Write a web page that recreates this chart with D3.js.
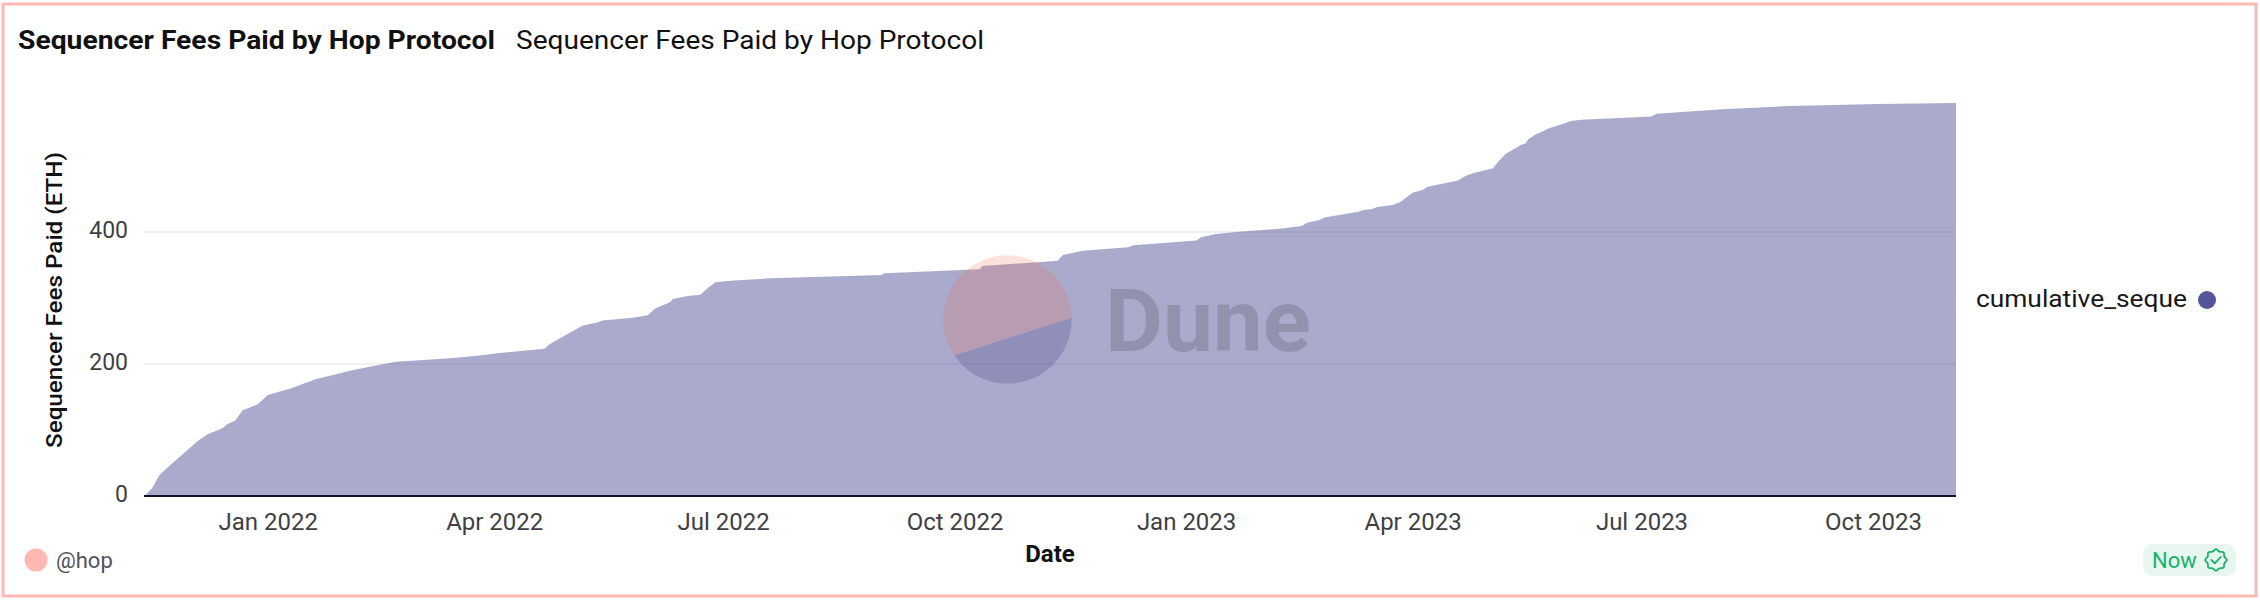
<!DOCTYPE html>
<html>
<head>
<meta charset="utf-8">
<script src="https://cdn.jsdelivr.net/npm/d3@7/dist/d3.min.js"></script>
<style>
html,body{margin:0;padding:0;background:#fff;overflow:hidden}
svg{display:block}
text{font-family:"Roboto","Open Sans",sans-serif}
</style>
</head>
<body>
<svg id="c" width="2260" height="602"></svg>
<script>
const chartTitle = "Sequencer Fees Paid by Hop Protocol";
const chartSubtitle = "Sequencer Fees Paid by Hop Protocol";
const yTitle = "Sequencer Fees Paid (ETH)";
const xTitle = "Date";
const seriesName = "cumulative_seque";
const dates = ["2021-11-13","2021-11-16","2021-11-19","2021-11-24","2021-11-29","2021-12-04","2021-12-08","2021-12-14","2021-12-16","2021-12-19","2021-12-22","2021-12-28",
"2022-01-01","2022-01-10","2022-01-20","2022-02-04","2022-02-12","2022-02-21","2022-03-07","2022-03-17","2022-03-28","2022-04-03","2022-04-21","2022-04-23","2022-04-30",
"2022-05-06","2022-05-12","2022-05-14","2022-05-26","2022-06-01","2022-06-04","2022-06-10","2022-06-11","2022-06-17","2022-06-22","2022-06-25","2022-06-28","2022-07-04",
"2022-07-20","2022-09-02","2022-09-03","2022-10-11","2022-10-12","2022-11-11","2022-11-13","2022-11-21","2022-12-09","2022-12-11",
"2023-01-05","2023-01-07","2023-01-13","2023-01-22","2023-02-07","2023-02-16","2023-02-18","2023-02-23","2023-02-25","2023-03-11","2023-03-12","2023-03-16","2023-03-18","2023-03-24","2023-03-27",
"2023-04-01","2023-04-05","2023-04-07","2023-04-19","2023-04-22","2023-04-25","2023-05-03","2023-05-05","2023-05-08","2023-05-14","2023-05-16","2023-05-17","2023-05-20","2023-05-22","2023-05-25","2023-05-30",
"2023-06-03","2023-06-07","2023-07-05","2023-07-07","2023-08-02","2023-08-29","2023-10-03","2023-11-03"];
const cumulativeFees = [0,11.7,31.8,49.5,66,83,93.5,102.6,109,114,130,139,
153,163,177,191,197,203.5,207,209.5,213.6,216.7,223,230,245,
258,263,266,270,274,284,294,298.5,303,305,315.6,324,326,
330,335,337.5,343.5,348.5,356.5,365,371.7,376.8,380,
387,392,397,400.5,405,409,414,418,422,431,433,435,438,441,445,
459.5,463.6,468.6,478,485,489,496.5,506.5,518,532,534.4,540.5,548,551,557,563,
568,570,575,579,586,591,594,595.5];
const xTicks = ["2022-01-01","2022-04-01","2022-07-01","2022-10-01","2023-01-01","2023-04-01","2023-07-01","2023-10-01"];
const yTicks = [0,200,400];

const parse = d3.utcParse("%Y-%m-%d");
const svg = d3.select("#c");
const x = d3.scaleUtc().domain([parse(dates[0]), parse(dates[dates.length-1])]).range([144.5,1956]);
const y = d3.scaleLinear().domain([0,600]).range([496,100]);
const purple = "#55559a";

// frame
svg.append("rect").attr("x",3).attr("y",4).attr("width",2253).attr("height",592)
  .attr("fill","#fff").attr("stroke","#ffb8b0").attr("stroke-width",3);

// titles
svg.append("text").attr("x",18).attr("y",49).attr("font-size",26).attr("font-weight",700).attr("fill","#111")
  .attr("textLength",477).attr("lengthAdjust","spacingAndGlyphs").text(chartTitle);
svg.append("text").attr("x",516).attr("y",49).attr("font-size",26).attr("fill","#111")
  .attr("textLength",468).attr("lengthAdjust","spacingAndGlyphs").text(chartSubtitle);

// grid
svg.append("g").selectAll("line").data(yTicks.slice(1)).join("line")
  .attr("x1",144).attr("x2",1956).attr("y1",d=>y(d)).attr("y2",d=>y(d))
  .attr("stroke","#f1f1f1").attr("stroke-width",2);

// area
const area = d3.area().x(d=>x(d.date)).y0(y(0)).y1(d=>y(d.value));
const rows = dates.map((d,i)=>({date:parse(d),value:cumulativeFees[i]}));
svg.append("path").datum(rows).attr("d",area).attr("fill",purple).attr("fill-opacity",0.5);

// axes
const ax = svg.append("g").attr("transform","translate(0,496)")
  .call(d3.axisBottom(x).tickValues(xTicks.map(parse)).tickFormat(d3.utcFormat("%b %Y")).tickSize(0));
ax.select(".domain").remove();
ax.selectAll("text").attr("y",0).attr("dy",34).attr("font-size",24).attr("fill","#3f3f46").attr("font-family",'"Roboto",sans-serif');
const ay = svg.append("g").attr("transform","translate(128,0)")
  .call(d3.axisLeft(y).tickValues(yTicks).tickSize(0));
ay.select(".domain").remove();
ay.selectAll("text").attr("x",0).attr("dy",5).attr("font-size",23).attr("fill","#3f3f46").attr("font-family",'"Roboto",sans-serif');
svg.append("line").attr("x1",144).attr("x2",1956).attr("y1",y(0)).attr("y2",y(0)).attr("stroke","#14142b").attr("stroke-width",2);

// axis titles
svg.append("text").attr("transform","translate(62,300) rotate(-90)").attr("text-anchor","middle")
  .attr("font-size",22).attr("font-weight",500).attr("fill","#111").attr("textLength",296).attr("lengthAdjust","spacingAndGlyphs").text(yTitle);
svg.append("text").attr("x",1050).attr("y",562).attr("text-anchor","middle").attr("font-size",24).attr("font-weight",700).attr("fill","#111").text(xTitle);

// legend
svg.append("text").attr("x",1976).attr("y",307).attr("font-size",23).attr("fill","#18181b")
  .attr("textLength",211).attr("lengthAdjust","spacingAndGlyphs").text(seriesName);
svg.append("circle").attr("cx",2207).attr("cy",300).attr("r",9).attr("fill",purple);

// watermark
const wmX=1007.5, wmY=319.5, wmR=64.2;
const lx0=wmX-wmR-10, lx1=wmX+wmR+10, ly0=362.5, ly1=314.5, wmTop=wmY-wmR-10, wmBot=wmY+wmR+10;
svg.append("defs").append("clipPath").attr("id","wmc").append("circle").attr("cx",wmX).attr("cy",wmY).attr("r",wmR);
const wm = svg.append("g").attr("clip-path","url(#wmc)");
wm.append("path").attr("d",`M${lx0},${ly0} L${lx1},${ly1} L${lx1},${wmTop} L${lx0},${wmTop} Z`).attr("fill","#f4603e").attr("fill-opacity",0.19);
wm.append("path").attr("d",`M${lx0},${ly0} L${lx1},${ly1} L${lx1},${wmBot} L${lx0},${wmBot} Z`).attr("fill","#1e1870").attr("fill-opacity",0.19);
svg.append("text").attr("x",1105).attr("y",351).attr("font-family","Inter,sans-serif").attr("font-weight",700).attr("font-size",87).attr("fill","#000").attr("fill-opacity",0.14)
  .attr("textLength",206).attr("lengthAdjust","spacingAndGlyphs").text("Dune");

// footer
svg.append("circle").attr("cx",36).attr("cy",560).attr("r",11.5).attr("fill","#ffb8b0");
svg.append("text").attr("x",56).attr("y",568).attr("font-size",22).attr("fill","#52525b").text("@hop");
svg.append("rect").attr("x",2143).attr("y",544).attr("width",93).attr("height",32).attr("rx",10).attr("fill","#e7f7f0");
svg.append("text").attr("x",2152).attr("y",568).attr("font-size",22).attr("fill","#17b26a").text("Now");
const lobes = d3.range(16).map(i=>[i*Math.PI/8, i%2?9:10.8]);
const icon = svg.append("g").attr("transform","translate(2216,560)").attr("fill","none").attr("stroke","#17b26a").attr("stroke-width",1.8);
icon.append("path").attr("d",d3.lineRadial().curve(d3.curveCardinalClosed)(lobes));
icon.append("path").attr("d","M-4.5,0 L-1.2,3.3 L4.8,-3").attr("stroke-linecap","round").attr("stroke-linejoin","round");
</script>
</body>
</html>
